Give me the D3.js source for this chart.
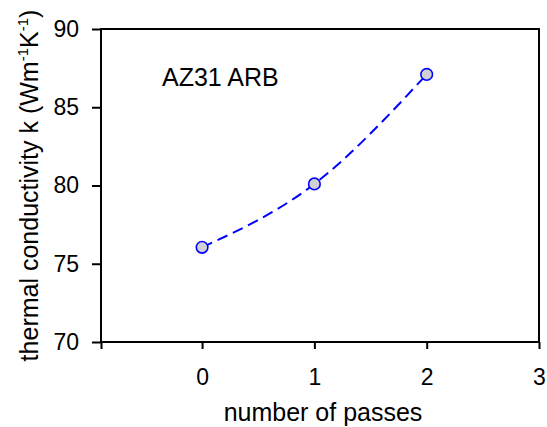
<!DOCTYPE html>
<html lang="en">
<head>
  <meta charset="utf-8">
  <script src="https://cdn.jsdelivr.net/npm/d3@7"></script>
  <style>
    body { margin: 0; background: #fff; }
    text { font-family: "Liberation Sans", Arial, sans-serif; }
    .axis path, .axis line { stroke: #000; stroke-width: 2px; }
    .axis text { font-size: 23px; fill: #000; }
  </style>
</head>
<body>
  <div id="chart"></div>
  <script>
    // Data
    var passes = [0, 1, 2];
    var conductivity = [76.05, 80.1, 87.1];
    var xTicks = [-0.9, 0, 1, 2, 3];
    var yTicks = [70, 75, 80, 85, 90];

    var W = 547, H = 427;
    var margin = { top: 29, right: 8, bottom: 85, left: 101 };
    var width = W - margin.left - margin.right,
      height = H - margin.top - margin.bottom;

    var svg = d3.select('#chart').append('svg')
      .attr('width', W)
      .attr('height', H);

    var g = svg.append('g')
      .attr('transform', 'translate(' + margin.left + ',' + margin.top + ')');

    var x = d3.scaleLinear().domain([-0.9, 3]).range([0, width]);
    var y = d3.scaleLinear().domain([70, 90]).range([height, 0]);

    // frame
    g.append('rect')
      .attr('width', width)
      .attr('height', height)
      .attr('fill', 'none')
      .attr('stroke', '#000')
      .attr('stroke-width', 2);

    // axes
    g.append('g')
      .attr('class', 'axis')
      .attr('transform', 'translate(0,' + height + ')')
      .call(d3.axisBottom(x).tickValues(xTicks).tickSize(7).tickPadding(20)
        .tickFormat(function(d) { return d < 0 ? '' : d3.format('d')(d); }))
      .call(function(a) { a.select('.domain').remove(); });

    g.append('g')
      .attr('class', 'axis')
      .call(d3.axisLeft(y).tickValues(yTicks).tickSize(9).tickPadding(13))
      .call(function(a) { a.select('.domain').remove(); });

    // dashed smooth curve
    var pts = passes.map(function(p, i) { return [p, conductivity[i]]; });

    var line = d3.line()
      .x(function(d) { return x(d[0]); })
      .y(function(d) { return y(d[1]); })
      .curve(d3.curveNatural);

    g.append('path')
      .datum(pts)
      .attr('d', line)
      .attr('fill', 'none')
      .attr('stroke', '#0000ff')
      .attr('stroke-width', 2)
      .attr('stroke-dasharray', '11,6');

    g.selectAll('circle')
      .data(pts)
      .enter()
      .append('circle')
      .attr('cx', function(d) { return x(d[0]); })
      .attr('cy', function(d) { return y(d[1]); })
      .attr('r', 5.8)
      .attr('fill', '#d2d2d6')
      .attr('stroke', '#0000ff')
      .attr('stroke-width', 1.6);

    // annotation
    g.append('text')
      .attr('x', 162 - margin.left)
      .attr('y', 86 - margin.top)
      .attr('font-size', 25)
      .text('AZ31 ARB');

    // axis titles
    svg.append('text')
      .attr('x', 323)
      .attr('y', 421)
      .attr('text-anchor', 'middle')
      .attr('font-size', 25)
      .text('number of passes');

    var yl = svg.append('text')
      .attr('transform', 'translate(38,' + (margin.top + height / 2) + ') rotate(-90)')
      .attr('text-anchor', 'middle')
      .attr('font-size', 25);
    yl.append('tspan').text('thermal conductivity k (Wm');
    yl.append('tspan').attr('font-size', 15).attr('dy', -10).text('-1');
    yl.append('tspan').attr('dy', 10).text('K');
    yl.append('tspan').attr('font-size', 15).attr('dy', -10).text('-1');
    yl.append('tspan').attr('dy', 10).text(')');
  </script>
</body>
</html>
